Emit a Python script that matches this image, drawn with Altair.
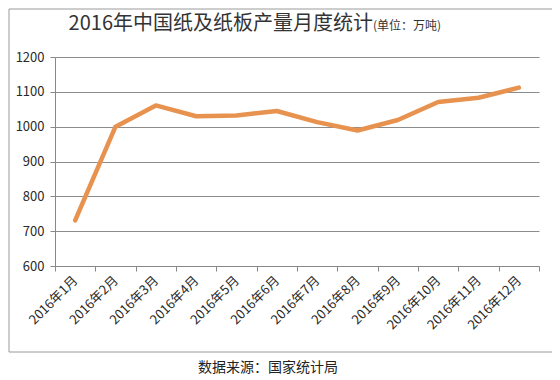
import altair as alt
import pandas as pd

months = ["2016年1月", "2016年2月", "2016年3月", "2016年4月", "2016年5月", "2016年6月",
          "2016年7月", "2016年8月", "2016年9月", "2016年10月", "2016年11月", "2016年12月"]
output = [731, 1000, 1061, 1030, 1032, 1045, 1013, 989, 1019, 1071, 1083, 1112]
y_ticks = [600, 700, 800, 900, 1000, 1100, 1200]

title_main = "2016年中国纸及纸板产量月度统计"
title_unit = "(单位：万吨)"
source_note = "数据来源：国家统计局"

df = pd.DataFrame({"month": months, "value": output})
one = pd.DataFrame({"a": [0]})

FONT = "Noto Sans CJK SC"
W, H = 484, 209

x_enc = alt.X("month:N", sort=months, title=None,
              scale=alt.Scale(paddingInner=0, paddingOuter=0),
              axis=alt.Axis(labelAngle=-45, labelAlign="right", labelBaseline="middle",
                            tickBand="extent", tickSize=5, domainColor="#888888",
                            tickColor="#888888", labelPadding=7, labelFontSize=13,
                            labelColor="#2a2a2a", labelFont=FONT, grid=False))
y_enc = alt.Y("value:Q", title=None,
              scale=alt.Scale(domain=[600, 1200], nice=False, zero=False),
              axis=alt.Axis(values=y_ticks, format="d", tickSize=5, domainColor="#888888",
                            tickColor="#888888", gridColor="#8c8c8c", gridWidth=1,
                            labelPadding=6, labelFontSize=13, labelColor="#2a2a2a",
                            labelFont=FONT))

frame = alt.Chart(one).mark_rect(fill="transparent", stroke="#9a9a9a", strokeWidth=1).encode(
    x=alt.value(-46), x2=alt.value(499), y=alt.value(-48), y2=alt.value(295))

line = alt.Chart(df).mark_line(color="#E8924F", strokeWidth=4.5, strokeCap="round",
                               strokeJoin="round").encode(x=x_enc, y=y_enc)

t1 = alt.Chart(one).mark_text(align="right", baseline="middle", fontSize=20, font=FONT,
                              color="#333333").encode(
    x=alt.value(318), y=alt.value(-33), text=alt.value(title_main))
t2 = alt.Chart(one).mark_text(align="left", baseline="middle", fontSize=12, font=FONT,
                              color="#333333").encode(
    x=alt.value(318), y=alt.value(-31), text=alt.value(title_unit))
t3 = alt.Chart(one).mark_text(align="center", baseline="middle", fontSize=14, font=FONT,
                              color="#222222").encode(
    x=alt.value(213), y=alt.value(311), text=alt.value(source_note))

chart = alt.layer(frame, line, t1, t2, t3).properties(
    width=W, height=H,
    autosize=alt.AutoSizeParams(type="none"),
    padding={"left": 47, "top": 49, "right": 13, "bottom": 112},
    background="white",
).configure_view(stroke=None)

chart.save("out.html", embed_options={"renderer": "svg", "actions": False})
